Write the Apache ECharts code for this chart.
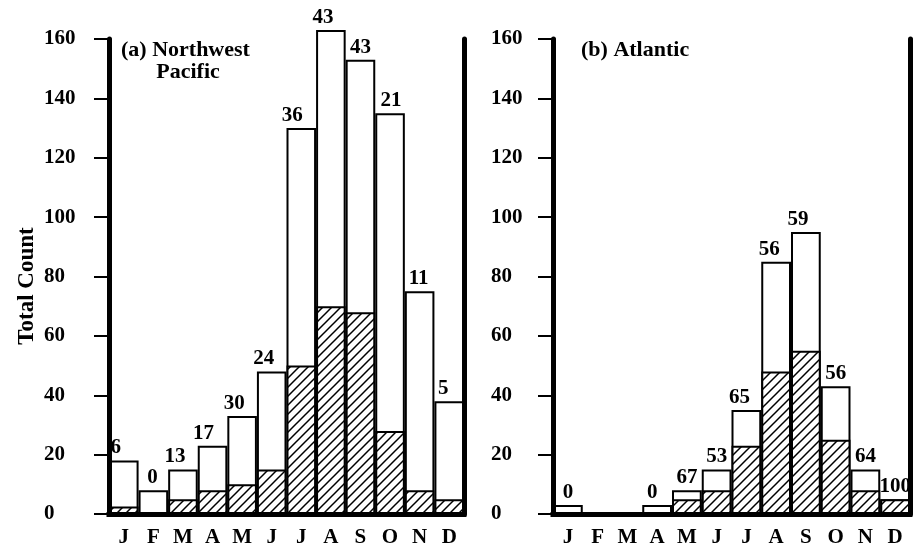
<!DOCTYPE html>
<html>
<head>
<meta charset="utf-8">
<script src="https://cdn.jsdelivr.net/npm/echarts@6/dist/echarts.min.js"></script>
<style>
html,body{margin:0;padding:0;background:#fff;}
#chart{width:915px;height:548px;}
</style>
</head>
<body>
<div id="chart"></div>
<script>
// ---- data ----
var months = ['J','F','M','A','M','J','J','A','S','O','N','D'];
var yTicks = [0, 20, 40, 60, 80, 100, 120, 140, 160];
var wpTotal   = [18, 8, 15, 23, 33, 48, 130, 163, 153, 135, 75, 38];
var wpHatched = [2.5, 0, 5, 8, 10, 15, 50, 70, 68, 28, 8, 5];
var wpLabels  = ['6','0','13','17','30','24','36','43','43','21','11','5'];
var atTotal   = [3, 0, 0, 3, 8, 15, 35, 85, 95, 43, 15, 5];
var atHatched = [0, 0, 0, 0, 5, 8, 23, 48, 55, 25, 8, 5];
var atLabels  = ['0','','','0','67','53','65','56','59','56','64','100'];

// ---- styling (label nudges) ----
var wpLabelShift = [-8,-1,-8,-9,-8,-8,-9,-8,0,1,-1,-6];
var atLabelShift = [0,0,0,-5,0,0,-7,-7,-8,0,0,0];

var FONT = 'Liberation Serif';

// hatch pattern
function makeHatch() {
  var s = 9;
  var c = document.createElement('canvas');
  c.width = s; c.height = s;
  var g = c.getContext('2d');
  g.fillStyle = '#fff';
  g.fillRect(0, 0, s, s);
  g.strokeStyle = '#000';
  g.lineWidth = 1.5;
  g.beginPath();
  g.moveTo(0, s); g.lineTo(s, 0);
  g.moveTo(-2, 2); g.lineTo(2, -2);
  g.moveTo(s - 2, s + 2); g.lineTo(s + 2, s - 2);
  g.stroke();
  return c;
}
var hatch = {image: makeHatch(), repeat: 'repeat'};

var chart = echarts.init(document.getElementById('chart'), null, {renderer: 'canvas'});

function xAxisFor(gi) {
  return {
    type: 'category', gridIndex: gi, data: months, z: 10,
    axisLine: {show: true, lineStyle: {color: '#000', width: 5, cap: 'square'}},
    axisTick: {show: false},
    axisLabel: {color: '#000', fontFamily: FONT, fontWeight: 'bold', fontSize: 21, margin: 13}
  };
}
function yAxisFor(gi, margin) {
  return {
    type: 'value', gridIndex: gi, min: yTicks[0], max: yTicks[yTicks.length - 1],
    interval: yTicks[1] - yTicks[0], z: 10,
    axisLine: {show: true, lineStyle: {color: '#000', width: 5}},
    axisTick: {show: true, length: 15, lineStyle: {color: '#000', width: 2}},
    splitLine: {show: false},
    axisLabel: {color: '#000', fontFamily: FONT, fontWeight: 'bold', fontSize: 21,
      margin: margin, align: 'left'}
  };
}
function borderAxis(gi) {
  return {
    type: 'value', gridIndex: gi, position: 'right',
    min: yTicks[0], max: yTicks[yTicks.length - 1], z: 10,
    axisLine: {show: true, lineStyle: {color: '#000', width: 5}},
    axisTick: {show: false}, axisLabel: {show: false}, splitLine: {show: false}
  };
}
function totalSeries(gi, vals, labels, shifts) {
  return {
    type: 'bar', xAxisIndex: gi, yAxisIndex: gi * 2, clip: false,
    barWidth: '100%', barGap: '-100%', barCategoryGap: 0,
    itemStyle: {color: '#fff', borderColor: '#000', borderWidth: 2},
    label: {
      show: true, position: 'top', distance: 2, color: '#000',
      fontFamily: FONT, fontWeight: 'bold', fontSize: 21,
      formatter: function (p) { return labels[p.dataIndex]; }
    },
    data: vals.map(function (v, i) {
      return {value: v, label: {offset: [shifts[i], 0]}};
    }),
    z: 2
  };
}
function hatchSeries(gi, vals) {
  return {
    type: 'bar', xAxisIndex: gi, yAxisIndex: gi * 2, clip: false,
    barWidth: '100%', barGap: '-100%', barCategoryGap: 0,
    itemStyle: {color: hatch, borderColor: '#000', borderWidth: 2},
    data: vals, z: 3
  };
}

function txt(t, x, y, align, size, rot) {
  return {
    type: 'text', x: x, y: y, rotation: rot || 0, z: 20,
    style: {text: t, align: align, verticalAlign: 'middle',
      fontFamily: FONT, fontWeight: 'bold', fontSize: size, fill: '#000'}
  };
}

chart.setOption({
  animation: false,
  backgroundColor: '#fff',
  grid: [
    {left: 109, right: 915 - 464, top: 39, bottom: 548 - 514},
    {left: 553, right: 915 - 910, top: 39, bottom: 548 - 514}
  ],
  xAxis: [xAxisFor(0), xAxisFor(1)],
  yAxis: [yAxisFor(0, 65), borderAxis(0), yAxisFor(1, 62), borderAxis(1)],
  series: [
    totalSeries(0, wpTotal, wpLabels, wpLabelShift),
    hatchSeries(0, wpHatched),
    totalSeries(1, atTotal, atLabels, atLabelShift),
    hatchSeries(1, atHatched)
  ],
  graphic: [
    txt('Total Count', 27, 286, 'center', 23, Math.PI / 2),
    txt('(a) Northwest', 121, 50, 'left', 22),
    txt('Pacific', 188, 72, 'center', 22),
    txt('(b) Atlantic', 581, 50, 'left', 22)
  ]
});
</script>
</body>
</html>
